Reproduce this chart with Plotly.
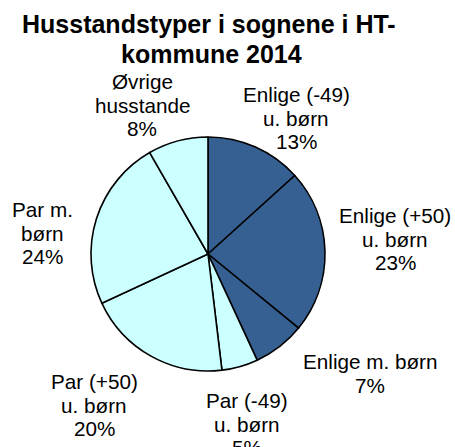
import plotly.graph_objects as go

# Data
categories = ["Enlige (-49)<br>u. børn", "Enlige (+50)<br>u. børn", "Enlige m. børn",
              "Par (-49)<br>u. børn", "Par (+50)<br>u. børn", "Par m.<br>børn",
              "Øvrige<br>husstande"]
values = [13.3, 22.6, 7.2, 5.0, 20.0, 23.6, 8.3]
colors = ["#366092", "#366092", "#366092", "#CCFFFF", "#CCFFFF", "#CCFFFF", "#CCFFFF"]
title_lines = ["Husstandstyper i sognene i HT-", "kommune 2014"]

W, H = 455, 447
# label anchor: (x center px, first baseline px)
label_pos = [(296, 102), (395, 223), (370, 369), (247, 408), (94, 389), (42, 217), (142, 89)]
title_pos = [(208.5, 33), (211, 63)]

cx, cy, r = 208, 254, 117

fig = go.Figure(go.Pie(
    labels=categories, values=values, sort=False, direction="clockwise", rotation=0,
    marker=dict(colors=colors, line=dict(color="black", width=1.6)),
    textinfo="none", hoverinfo="label+percent", showlegend=False,
    domain=dict(x=[(cx - r) / W, (cx + r) / W], y=[1 - (cy + r) / H, 1 - (cy - r) / H]),
))

FS = 20.7
LS = 23.4
total = sum(values)
annotations = []
for cat, v, (px, py) in zip(categories, values, label_pos):
    lines = cat.split("<br>") + [f"{round(v / total * 100)}%"]
    for i, ln in enumerate(lines):
        base = py + i * LS
        annotations.append(dict(
            x=px / W, y=1 - (base - 0.35 * FS) / H, xref="paper", yref="paper",
            text=ln, showarrow=False, xanchor="center", yanchor="middle",
            font=dict(family="Liberation Sans, Arial", size=FS, color="black")))
TFS = 25
for ln, (px, py) in zip(title_lines, title_pos):
    annotations.append(dict(
        x=px / W, y=1 - (py - 0.35 * TFS) / H, xref="paper", yref="paper",
        text=f"<b>{ln}</b>", showarrow=False, xanchor="center", yanchor="middle",
        font=dict(family="Liberation Sans, Arial", size=TFS, color="black")))

fig.update_layout(width=W, height=H, margin=dict(l=0, r=0, t=0, b=0),
                  paper_bgcolor="white", plot_bgcolor="white", annotations=annotations)
fig.write_html("out.html", config={"displayModeBar": False},
               post_script="document.body.style.margin='0';document.body.style.overflow='hidden';")
